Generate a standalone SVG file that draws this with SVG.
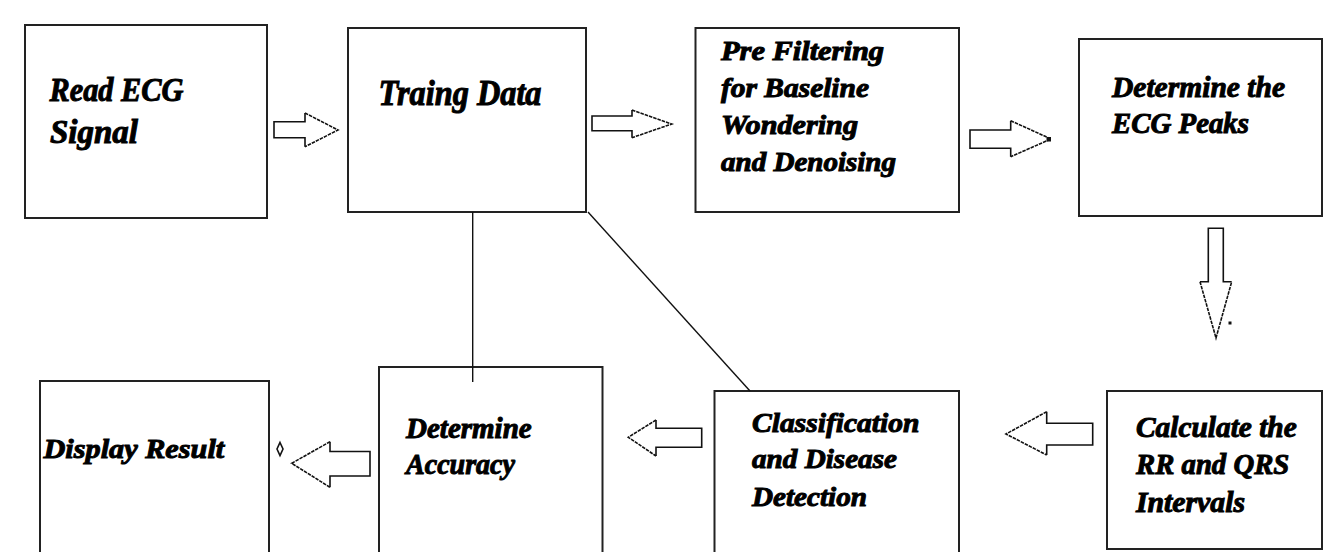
<svg xmlns="http://www.w3.org/2000/svg" width="1323" height="552" viewBox="0 0 1323 552">
  <style>
    .box { fill: #fff; stroke: #222; stroke-width: 2; }
    .lbl { font-family: "Liberation Serif", "Times New Roman", serif; font-weight: bold; font-style: italic; fill: #000; stroke: #000; stroke-width: 1; }
    .edge { fill: none; stroke: #111; stroke-width: 1.4; }
    .shaft { fill: #fff; stroke: #111; stroke-width: 1.6; stroke-linejoin: miter; }
    .head { fill: none; stroke: #111; stroke-width: 1.6; stroke-dasharray: 3.5 1; }
    .fill { fill: #fff; stroke: none; }
  </style>

  <rect width="1323" height="552" fill="#fff"/>

  <!-- process steps -->
  <g id="read-ecg">
    <rect class="box" x="25" y="25" width="242" height="193"/>
    <text class="lbl" font-size="33" x="49.5" y="100.5" textLength="134" lengthAdjust="spacingAndGlyphs">Read ECG</text>
    <text class="lbl" font-size="33" x="50" y="143" textLength="88" lengthAdjust="spacingAndGlyphs">Signal</text>
  </g>

  <g id="training-data">
    <rect class="box" x="348" y="28" width="238" height="184"/>
    <text class="lbl" font-size="35" x="378.5" y="105" textLength="163" lengthAdjust="spacingAndGlyphs">Traing Data</text>
  </g>

  <g id="pre-filtering">
    <rect class="box" x="695.5" y="28" width="263.5" height="184"/>
    <text class="lbl" font-size="27" x="721" y="60" textLength="163" lengthAdjust="spacingAndGlyphs">Pre Filtering</text>
    <text class="lbl" font-size="27" x="721" y="97" textLength="148" lengthAdjust="spacingAndGlyphs">for Baseline</text>
    <text class="lbl" font-size="27" x="721" y="133.5" textLength="137" lengthAdjust="spacingAndGlyphs">Wondering</text>
    <text class="lbl" font-size="27" x="721" y="171" textLength="175" lengthAdjust="spacingAndGlyphs">and Denoising</text>
  </g>

  <g id="ecg-peaks">
    <rect class="box" x="1079" y="39" width="243" height="177"/>
    <text class="lbl" font-size="29" x="1112" y="96.5" textLength="173" lengthAdjust="spacingAndGlyphs">Determine the</text>
    <text class="lbl" font-size="29" x="1112" y="133.3" textLength="137" lengthAdjust="spacingAndGlyphs">ECG Peaks</text>
  </g>

  <g id="rr-qrs">
    <rect class="box" x="1107" y="391" width="215" height="158"/>
    <text class="lbl" font-size="29" x="1136" y="437.3" textLength="160.7" lengthAdjust="spacingAndGlyphs">Calculate the</text>
    <text class="lbl" font-size="29" x="1136" y="474" textLength="153.3" lengthAdjust="spacingAndGlyphs">RR and QRS</text>
    <text class="lbl" font-size="29" x="1136" y="511.7" textLength="109" lengthAdjust="spacingAndGlyphs">Intervals</text>
  </g>

  <g id="classification">
    <rect class="box" x="714.5" y="391" width="244.5" height="175"/>
    <text class="lbl" font-size="28" x="752" y="431.7" textLength="167.5" lengthAdjust="spacingAndGlyphs">Classification</text>
    <text class="lbl" font-size="28" x="752" y="468.3" textLength="145" lengthAdjust="spacingAndGlyphs">and Disease</text>
    <text class="lbl" font-size="28" x="752" y="505.7" textLength="115" lengthAdjust="spacingAndGlyphs">Detection</text>
  </g>

  <g id="accuracy">
    <rect class="box" x="379" y="367" width="223.5" height="200"/>
    <text class="lbl" font-size="29" x="406" y="437.7" textLength="125.7" lengthAdjust="spacingAndGlyphs">Determine</text>
    <text class="lbl" font-size="29" x="406" y="474.3" textLength="109" lengthAdjust="spacingAndGlyphs">Accuracy</text>
  </g>

  <g id="display-result">
    <rect class="box" x="40" y="381" width="229" height="186"/>
    <text class="lbl" font-size="28" x="43.5" y="458.3" textLength="180.7" lengthAdjust="spacingAndGlyphs">Display Result</text>
  </g>

  <!-- connectors: block arrows and plain links -->
  <g id="connectors">
    <!-- links from the training data box -->
    <line class="edge" x1="472.7" y1="212" x2="472.7" y2="382"/>
    <line class="edge" x1="588" y1="212" x2="750" y2="391"/>

    <!-- read ECG -> training data -->
    <polygon class="fill" points="274,121.7 305,121.7 305,113 338,130 305,146.7 305,137.7 274,137.7"/>
    <path class="shaft" fill="none" d="M305,113 V121.7 H274 V137.7 H305 V146.7"/>
    <path class="head" d="M305,113 L338,130 L305,146.7"/>

    <!-- training data -> pre filtering -->
    <polygon class="fill" points="592,116 632,116 632,110 671.7,124 632,137.7 632,130.7 592,130.7"/>
    <path class="shaft" fill="none" d="M632,110 V116 H592 V130.7 H632 V137.7"/>
    <path class="head" d="M632,110 L671.7,124 L632,137.7"/>

    <!-- pre filtering -> ECG peaks -->
    <polygon class="fill" points="970,130 1010.7,130 1010.7,120.7 1051,139 1010.7,156.7 1010.7,148.3 970,148.3"/>
    <path class="shaft" fill="none" d="M1010.7,120.7 V130 H970 V148.3 H1010.7 V156.7"/>
    <path class="head" d="M1010.7,120.7 L1051,139 L1010.7,156.7"/>
    <rect x="1046.5" y="137" width="4.5" height="4.5" fill="#111"/>

    <!-- ECG peaks -> RR/QRS intervals -->
    <polygon class="fill" points="1208.3,228.3 1223.3,228.3 1223.3,281.7 1231.7,281.7 1216,338 1200,281.7 1208.3,281.7"/>
    <path class="shaft" fill="none" d="M1200,281.7 H1208.3 V228.3 H1223.3 V281.7 H1231.7"/>
    <path class="head" d="M1200,281.7 L1216,338 L1231.7,281.7"/>
    <rect x="1228.5" y="321.5" width="3" height="3" fill="#111"/>

    <!-- RR/QRS intervals -> classification -->
    <polygon class="fill" points="1092.7,423.3 1046.7,423.3 1046.7,411.7 1006,434 1046.7,455 1046.7,445 1092.7,445"/>
    <path class="shaft" fill="none" d="M1046.7,411.7 V423.3 H1092.7 V445 H1046.7 V455"/>
    <path class="head" d="M1046.7,411.7 L1006,434 L1046.7,455"/>

    <!-- classification -> accuracy -->
    <polygon class="fill" points="701.7,428.3 656,428.3 656,420 628.3,437.3 656,456 656,447.3 701.7,447.3"/>
    <path class="shaft" fill="none" d="M656,420 V428.3 H701.7 V447.3 H656 V456"/>
    <path class="head" d="M656,420 L628.3,437.3 L656,456"/>

    <!-- accuracy -> display result -->
    <polygon class="fill" points="370,451.5 330,451.5 330,441.7 291.7,463.3 330,487.3 330,476 370,476"/>
    <path class="shaft" fill="none" d="M330,441.7 V451.5 H370 V476 H330 V487.3"/>
    <path class="head" d="M330,441.7 L291.7,463.3 L330,487.3"/>
    <path d="M280,442.5 L283,449 L280,455.5 L277,449 Z" fill="none" stroke="#111" stroke-width="1.6"/>
  </g>
</svg>
